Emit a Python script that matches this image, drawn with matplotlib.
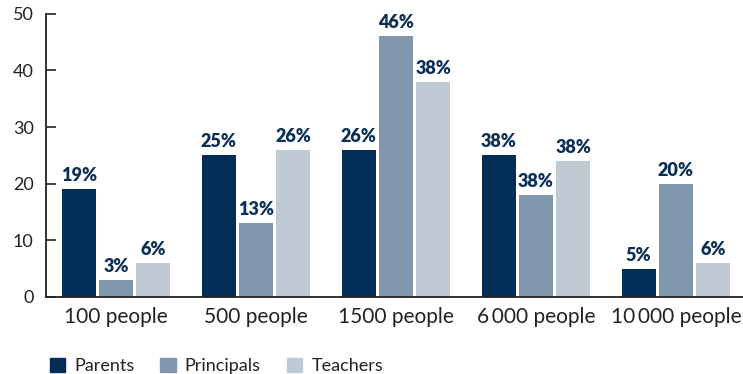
import numpy as np
import matplotlib.pyplot as plt
from matplotlib.patches import Patch

groups = ['100 people', '500 people', '1500 people', '6\u2009000 people', '10\u2009000 people']
series = ['Parents', 'Principals', 'Teachers']
parents = [19, 25, 26, 25, 5]
principals = [3, 13, 46, 18, 20]
teachers = [6, 26, 38, 24, 6]
parents_lbl = ['19%', '25%', '26%', '38%', '5%']
principals_lbl = ['3%', '13%', '46%', '38%', '20%']
teachers_lbl = ['6%', '26%', '38%', '38%', '6%']
colors = ['#022d57', '#8096ad', '#c0cad5']

plt.rcParams['font.family'] = ['Lato', 'DejaVu Sans']

fig = plt.figure(figsize=(7.43, 3.74), dpi=100)
ax = fig.add_axes([0.062, 0.206, 0.938, 0.757])

x = np.arange(len(groups))
w = 0.243
step = 0.266
vals = [parents, principals, teachers]
lbls = [parents_lbl, principals_lbl, teachers_lbl]
for i in range(3):
    xs = x + (i - 1) * step
    ax.bar(xs, vals[i], width=w, color=colors[i])
    for xx, v, t in zip(xs, vals[i], lbls[i]):
        ax.text(xx, v + 0.9, t, ha='center', va='bottom', fontsize=13,
                fontweight='heavy', color='#0b2e57')

ax.set_xlim(-0.5, 4.48)
ax.set_ylim(0, 50)
ax.set_yticks([0, 10, 20, 30, 40, 50])
ax.set_xticks(x)
ax.set_xticklabels(groups)
ax.tick_params(axis='y', direction='in', length=7, width=1.2, pad=9,
               labelsize=13, colors='#222222')
ax.tick_params(axis='x', length=0, pad=7, labelsize=15, colors='#222222')
for s in ['top', 'right']:
    ax.spines[s].set_visible(False)
for s in ['left', 'bottom']:
    ax.spines[s].set_linewidth(1.3)
    ax.spines[s].set_color('#222222')

handles = [Patch(color=c) for c in colors]
fig.legend(handles, series, loc='lower left', bbox_to_anchor=(0.045, -0.044),
           ncol=3, frameon=False, fontsize=13, handlelength=0.85, handleheight=0.85,
           handletextpad=0.5, columnspacing=1.45, labelcolor='#222222')

fig.savefig('out.png', dpi=100)
